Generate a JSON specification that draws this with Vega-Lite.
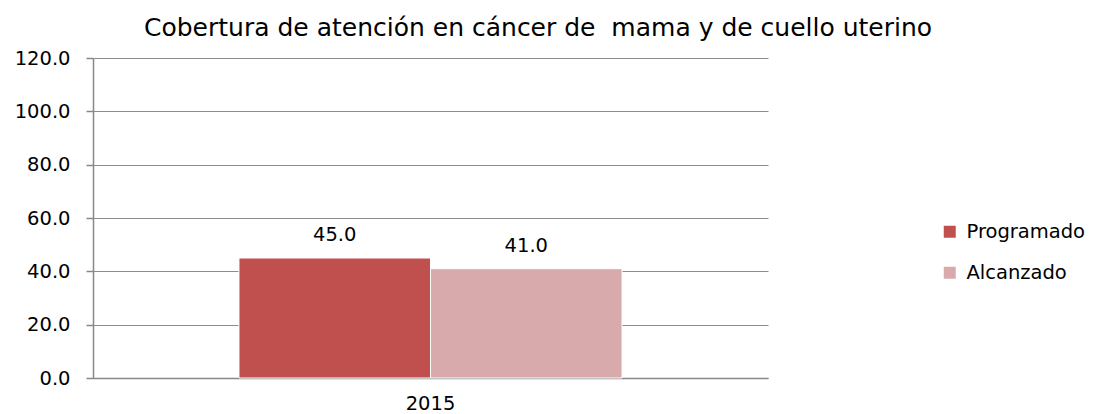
{
  "$schema": "https://vega.github.io/schema/vega-lite/v6.json",
  "autosize": "none",
  "width": 675,
  "height": 320,
  "padding": {"left": 93, "top": 58, "right": 328, "bottom": 36},
  "background": "white",
  "title": {
    "text": "Cobertura de atención en cáncer de \u00a0mama y de cuello uterino",
    "font": "DejaVu Sans",
    "fontSize": 25,
    "fontWeight": "normal",
    "color": "#000000",
    "anchor": "start",
    "frame": "group",
    "offset": 7,
    "dx": 51
  },
  "config": {
    "view": {"stroke": null},
    "font": "DejaVu Sans"
  },
  "data": {
    "values": [
      {"year": "2015", "serie": "Programado", "valor": 45.0},
      {"year": "2015", "serie": "Alcanzado", "valor": 41.0}
    ]
  },
  "encoding": {
    "x": {
      "field": "year",
      "type": "nominal",
      "title": null,
      "scale": {"paddingInner": 0, "paddingOuter": 0.381},
      "axis": {
        "labelAngle": 0,
        "labelFont": "DejaVu Sans",
        "labelFontSize": 19.5,
        "labelColor": "#000000",
        "labelPadding": 16,
        "ticks": false,
        "domainColor": "#888888",
        "domainWidth": 1.5
      }
    },
    "xOffset": {
      "field": "serie",
      "type": "nominal",
      "sort": ["Programado", "Alcanzado"],
      "scale": {"paddingInner": 0, "paddingOuter": 0}
    },
    "y": {
      "field": "valor",
      "type": "quantitative",
      "title": null,
      "scale": {"domain": [0, 120], "nice": false},
      "axis": {
        "values": [0, 20, 40, 60, 80, 100, 120],
        "format": ".1f",
        "labelFont": "DejaVu Sans",
        "labelFontSize": 19.5,
        "labelColor": "#000000",
        "labelPadding": 16,
        "tickSize": 7,
        "tickColor": "#888888",
        "tickWidth": 1.5,
        "domainColor": "#888888",
        "domainWidth": 1.5,
        "gridColor": "#8c8c8c",
        "gridWidth": 1
      }
    }
  },
  "layer": [
    {
      "mark": {"type": "bar", "stroke": "white", "strokeWidth": 1},
      "encoding": {
        "color": {
          "field": "serie",
          "type": "nominal",
          "sort": ["Programado", "Alcanzado"],
          "scale": {"domain": ["Programado", "Alcanzado"], "range": ["#C0504D", "#D9AAAB"]},
          "legend": {
            "title": null,
            "orient": "none",
            "legendX": 847,
            "legendY": 164,
            "symbolType": "square",
            "symbolSize": 144,
            "symbolStrokeWidth": 0,
            "labelFont": "DejaVu Sans",
            "labelFontSize": 19.5,
            "labelColor": "#000000",
            "labelOffset": 7,
            "rowPadding": 20
          }
        }
      }
    },
    {
      "mark": {"type": "text", "dy": -23, "font": "DejaVu Sans", "fontSize": 19.5, "color": "#000000"},
      "encoding": {
        "text": {"field": "valor", "type": "quantitative", "format": ".1f"}
      }
    }
  ]
}
